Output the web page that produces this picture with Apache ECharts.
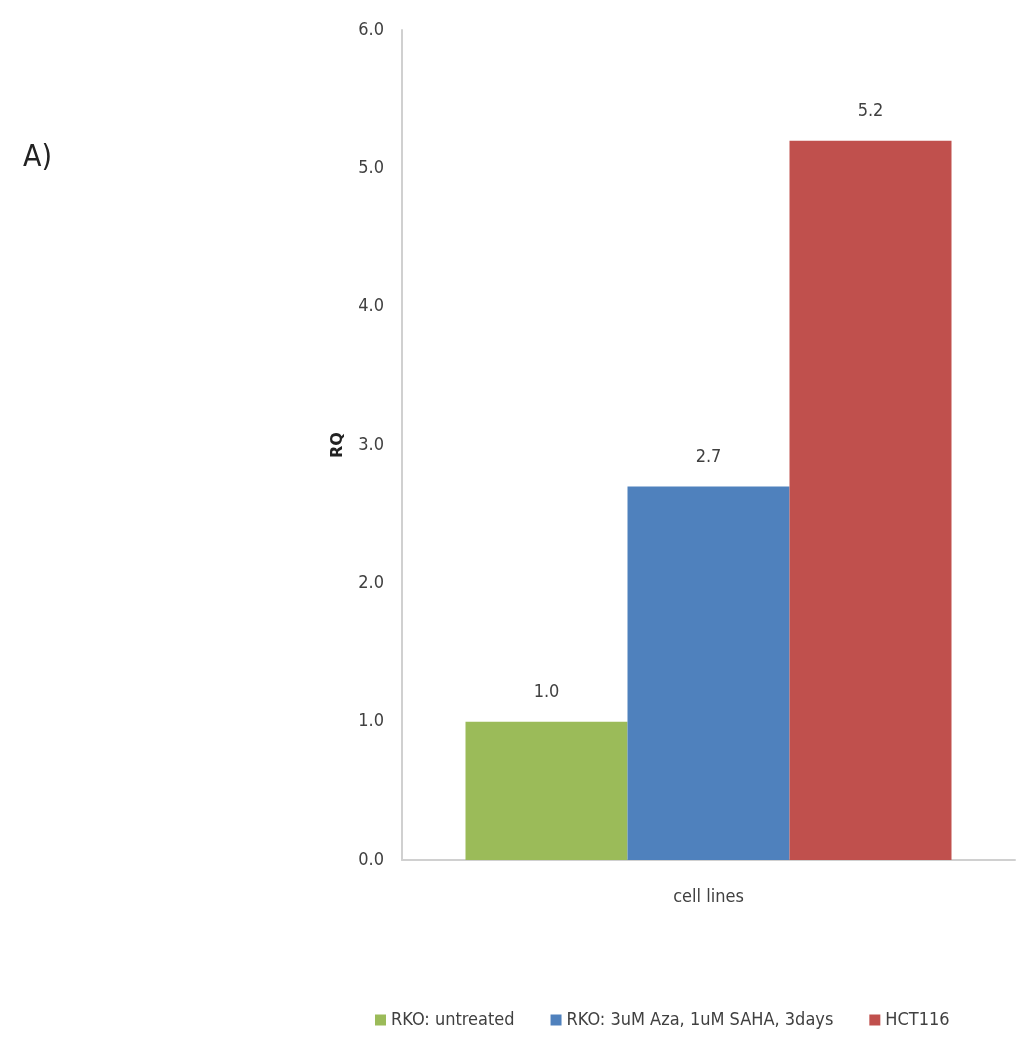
<!DOCTYPE html>
<html>
<head>
<meta charset="utf-8">
<script src="https://cdn.jsdelivr.net/npm/echarts@6/dist/echarts.min.js"></script>
<style>
  html, body { margin: 0; padding: 0; background: #fff; }
  #chart { width: 1024px; height: 1050px; }
</style>
</head>
<body>
<div id="chart"></div>
<script>
// data
var categories = ["cell lines"];
var seriesNames = ["RKO: untreated", "RKO: 3uM Aza, 1uM SAHA, 3days", "HCT116"];
var untreated = [1.0];
var azaSaha = [2.7];
var hct116 = [5.2];
var colors = ["#9bbb59", "#4f81bd", "#c0504d"];

var font = "'Liberation Sans Narrow', 'DejaVu Sans Condensed', 'Noto Sans', sans-serif";

var chart = echarts.init(document.getElementById("chart"));

function barSeries(name, data, color) {
  return {
    name: name,
    type: "bar",
    data: data,
    barWidth: 162,
    barGap: "0%",
    itemStyle: { color: color },
    label: {
      show: true,
      position: "top",
      distance: 20,
      color: "#404040",
      fontFamily: font,
      fontSize: 18,
      formatter: function (p) { return p.value.toFixed(1); }
    }
  };
}

var option = {
  animation: false,
  textStyle: { fontFamily: font },
  title: {
    text: "A)",
    left: 18,
    top: 138,
    textStyle: { fontSize: 30, fontWeight: "normal", color: "#222", fontFamily: font }
  },
  grid: { left: 402, right: 9, top: 30, bottom: 190 },
  color: colors,
  legend: {
    bottom: 16,
    left: 370,
    itemWidth: 11,
    itemHeight: 11,
    itemGap: 36,
    icon: "rect",
    textStyle: { fontSize: 18, color: "#404040", fontFamily: font },
    data: seriesNames
  },
  xAxis: {
    type: "category",
    data: categories,
    axisLine: { lineStyle: { color: "#d0d0d0", width: 2 } },
    axisTick: { show: false },
    axisLabel: { margin: 28, fontSize: 18, color: "#404040", fontFamily: font }
  },
  yAxis: {
    type: "value",
    min: 0,
    max: 6,
    interval: 1,
    name: "RQ",
    nameLocation: "middle",
    nameGap: 56,
    nameRotate: 90,
    nameTextStyle: { fontSize: 16, fontWeight: "bold", color: "#222", fontFamily: "'DejaVu Sans', sans-serif" },
    splitLine: { show: false },
    axisLine: { show: true, lineStyle: { color: "#d0d0d0", width: 2 } },
    axisTick: { show: false },
    axisLabel: {
      margin: 18,
      fontSize: 18,
      color: "#404040",
      fontFamily: font,
      formatter: function (v) { return v.toFixed(1); }
    }
  },
  series: [
    barSeries(seriesNames[0], untreated, colors[0]),
    barSeries(seriesNames[1], azaSaha, colors[1]),
    barSeries(seriesNames[2], hct116, colors[2])
  ]
};

chart.setOption(option);
</script>
</body>
</html>
